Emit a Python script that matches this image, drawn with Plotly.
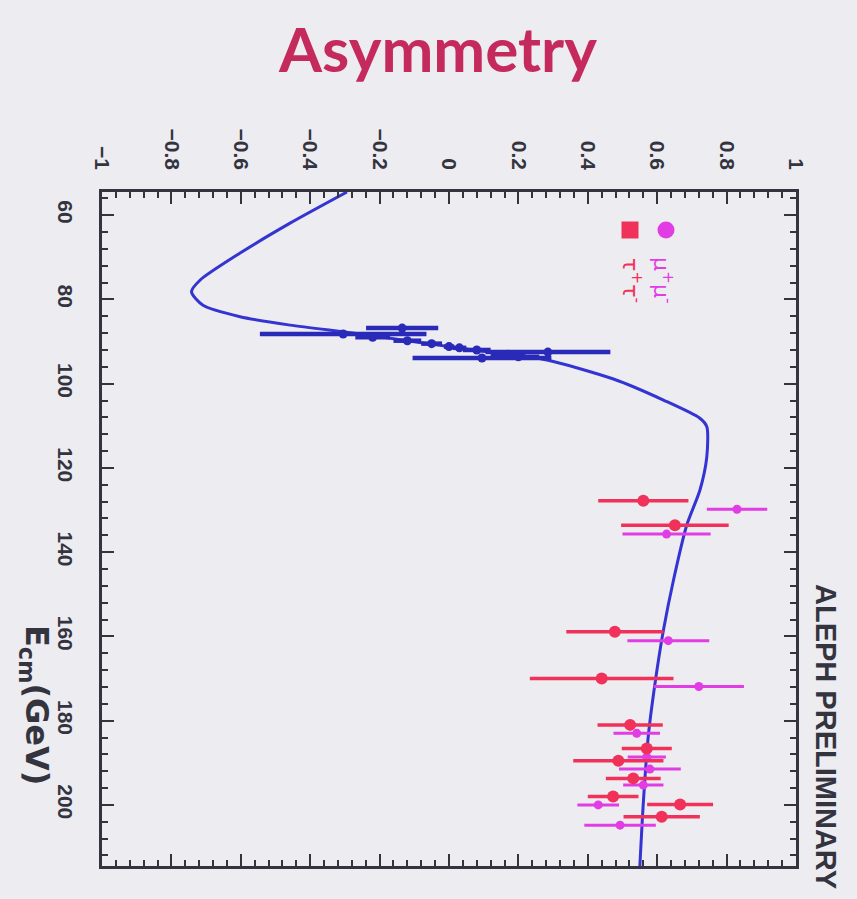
import plotly.graph_objects as go

# ---- data ----
curve_E = [54.5, 61.9, 69.0, 75.4, 78.2, 81.4, 84.1, 86.1, 88.1, 90.4, 92.0, 94.4,
           98.9, 103.9, 108.2, 110.2, 117.3, 125.3, 133.6, 146.6, 158.5, 171.0,
           183.9, 199.5, 214.5]
curve_A = [-0.294, -0.458, -0.602, -0.717, -0.742, -0.709, -0.602, -0.458, -0.266,
           -0.07, 0.07, 0.282, 0.474, 0.618, 0.723, 0.743, 0.743, 0.723, 0.685,
           0.647, 0.618, 0.594, 0.574, 0.56, 0.55]

lep1_E = [86.8, 88.2, 89.0, 89.8, 90.5, 91.2, 91.5, 92.0, 92.5, 93.0, 93.6, 93.9]
lep1_A = [-0.135, -0.305, -0.22, -0.12, -0.05, 0.0, 0.03, 0.08, 0.285, 0.17, 0.20, 0.095]
lep1_err = [0.104, 0.24, 0.05, 0.04, 0.03, 0.015, 0.02, 0.04, 0.18, 0.05, 0.06, 0.2]

tau_E = [127.8, 133.6, 158.9, 170.0, 181.0, 186.6, 189.5, 193.7, 198.0, 199.9, 202.8]
tau_A = [0.56, 0.651, 0.478, 0.44, 0.522, 0.57, 0.488, 0.531, 0.473, 0.666, 0.613]
tau_err = [0.13, 0.155, 0.14, 0.207, 0.094, 0.072, 0.13, 0.079, 0.073, 0.095, 0.11]

mu_E = [129.8, 135.7, 161.0, 171.9, 183.0, 188.6, 191.5, 195.3, 200.0, 204.8]
mu_A = [0.83, 0.627, 0.632, 0.72, 0.541, 0.57, 0.579, 0.56, 0.43, 0.493]
mu_err = [0.087, 0.127, 0.118, 0.13, 0.067, 0.055, 0.089, 0.058, 0.06, 0.103]

x_tickvals = [-1, -0.8, -0.6, -0.4, -0.2, 0, 0.2, 0.4, 0.6, 0.8, 1]
x_ticktext = ["\u22121", "\u22120.8", "\u22120.6", "\u22120.4", "\u22120.2", "0",
              "0.2", "0.4", "0.6", "0.8", "1"]
y_tickvals = [60, 80, 100, 120, 140, 160, 180, 200]
y_ticktext = ["60", "80", "100", "120", "140", "160", "180", "200"]

BG = "#edecf1"
AX = "#34343f"
BLUE = "#3434d2"
RED = "#f0325a"
MAG = "#e23ce4"

fig = go.Figure()
fig.add_trace(go.Scatter(x=curve_A, y=curve_E, mode="lines",
                         line=dict(color=BLUE, width=3, shape="spline", smoothing=0.7),
                         hoverinfo="skip"))
fig.add_trace(go.Scatter(x=lep1_A, y=lep1_E, mode="markers",
                         marker=dict(color="#2a2ab8", size=9),
                         error_x=dict(type="data", array=lep1_err, color="#2a2ab8",
                                      thickness=4.5, width=0)))
fig.add_trace(go.Scatter(x=mu_A, y=mu_E, mode="markers",
                         marker=dict(color=MAG, size=9),
                         error_x=dict(type="data", array=mu_err, color=MAG,
                                      thickness=3, width=0)))
fig.add_trace(go.Scatter(x=tau_A, y=tau_E, mode="markers",
                         marker=dict(color=RED, size=12),
                         error_x=dict(type="data", array=tau_err, color=RED,
                                      thickness=3.5, width=0)))

L, R, T, B = 102, 61, 192, 33
W, H = 857, 899
pw, ph = W - L - R, H - T - B


def px(x):
    return (x - L) / pw


def py(y):
    return (H - B - y) / ph


tickfont = dict(family="Liberation Sans", size=21, color=AX, weight="bold")
common = dict(showgrid=False, zeroline=False, showline=True, linewidth=2.5,
              linecolor=AX, mirror="ticks", ticks="inside", ticklen=12,
              tickwidth=2, tickcolor=AX, tickangle=90, tickfont=tickfont)

fig.update_layout(
    width=W, height=H, autosize=False,
    margin=dict(l=L, r=R, t=T, b=B),
    paper_bgcolor=BG, plot_bgcolor=BG, showlegend=False,
    xaxis=dict(range=[-1, 1], side="top", tickmode="array", tickvals=x_tickvals,
               ticktext=x_ticktext, ticklabelstandoff=12,
               minor=dict(tickmode="linear", tick0=-1, dtick=0.04, ticks="inside",
                          ticklen=6, tickwidth=1.5, tickcolor=AX),
               **common),
    yaxis=dict(range=[214.5, 54.5], tickmode="array", tickvals=y_tickvals,
               ticktext=y_ticktext, ticklabelstandoff=16,
               minor=dict(tickmode="linear", tick0=60, dtick=4, ticks="inside",
                          ticklen=6, tickwidth=1.5, tickcolor=AX),
               **common),
)

ann = [
    dict(text="Asymmetry", x=px(437), y=py(48), font=dict(family="Lato", size=62,
         color="#c42a5c", weight="bold")),
    dict(text="E<sub>cm</sub>(GeV)", x=px(35), y=py(705), textangle=90,
         font=dict(family="DejaVu Sans", size=32, color=AX, weight="bold")),
    dict(text="ALEPH PRELIMINARY", x=px(826), y=py(736), textangle=90,
         font=dict(family="Liberation Sans", size=29, color=AX, weight="bold")),
    dict(text="τ<sup>+</sup>τ<sup>-</sup>", x=px(632), y=py(280), textangle=90,
         font=dict(family="DejaVu Sans", size=22, color=RED)),
    dict(text="μ<sup>+</sup>μ<sup>-</sup>", x=px(663), y=py(280), textangle=90,
         font=dict(family="DejaVu Sans", size=22, color=MAG)),
]
for a in ann:
    a.update(xref="paper", yref="paper", showarrow=False,
             xanchor="center", yanchor="middle")
fig.update_layout(annotations=ann)

s = 8.5
fig.add_shape(type="rect", xref="paper", yref="paper",
              x0=px(630 - s), x1=px(630 + s), y0=py(230 + s), y1=py(230 - s),
              fillcolor=RED, line=dict(width=0))
fig.add_shape(type="circle", xref="paper", yref="paper",
              x0=px(666 - s), x1=px(666 + s), y0=py(230 + s), y1=py(230 - s),
              fillcolor=MAG, line=dict(width=0))

fig.write_html("out.html")
